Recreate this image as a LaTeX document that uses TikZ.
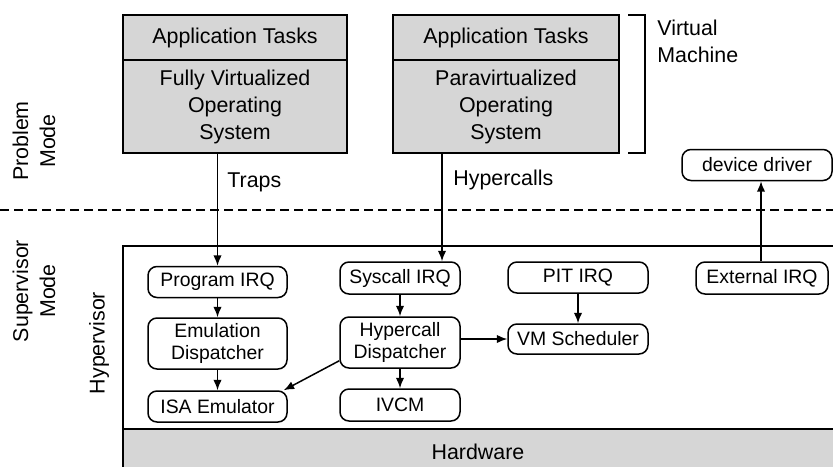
\documentclass[tikz,border=0pt]{standalone}
\usepackage{fontspec}
\setmainfont{Liberation Sans}
\usetikzlibrary{arrows.meta,calc}

\tikzset{
  big/.style={font=\fontsize{10.7}{13.5}\selectfont},
  small/.style={font=\fontsize{9.7}{11}\selectfont},
  vmbox/.style={draw, line width=0.85pt, fill=boxgray, big, align=center, inner sep=0pt},
  unit/.style={draw, line width=0.75pt, rounded corners=4.5pt, fill=white, small,
               align=center, inner sep=0pt},
  arr/.style={line width=0.75pt, -{Latex[length=5.2pt, width=4.2pt]}},
}
\definecolor{boxgray}{HTML}{D6D6D6}

\begin{document}
\begin{tikzpicture}[x=0.5pt, y=-0.5pt]
\useasboundingbox (0,0) rectangle (833,466);

% dashed boundary between problem and supervisor mode
\draw[line width=0.7pt, dash pattern=on 4.5pt off 2.5pt] (0,210) -- (833,210);

% hypervisor frame and hardware layer
\draw[line width=0.85pt] (840,246) -- (123,246) -- (123,429);
\fill[boxgray] (123,429) rectangle (840,470);
\draw[line width=0.85pt] (123,470) -- (123,429);
\draw[line width=1.2pt] (123,429) -- (840,429);
\node[big] (hw) at (478,452) {Hardware};

% virtual machines
\node[vmbox, minimum width=112pt, minimum height=22.5pt] (app1) at (235,37.5) {Application Tasks};
\node[vmbox, minimum width=112pt, minimum height=46.5pt] (os1) at (235,106.5)
  {Fully Virtualized\\Operating\\System};
\node[vmbox, minimum width=113pt, minimum height=22.5pt] (app2) at (506,37.5) {Application Tasks};
\node[vmbox, minimum width=113pt, minimum height=46.5pt] (os2) at (506,106.5)
  {Paravirtualized\\Operating\\System};

% bracket marking one virtual machine
\coordinate (bt) at (628,15);
\coordinate (bb) at (628,153);
\draw[line width=0.85pt] (bt) -- ++(17,0) -- ($(bb)+(17,0)$) -- (bb);
\node[big, anchor=north west, align=left, inner sep=0pt] (vm) at (657,20) {Virtual\\Machine};

% mode labels
\node[big, rotate=90, align=center, inner sep=0pt] (pm) at (34,141) {Problem\\Mode};
\node[big, rotate=90, align=center, inner sep=0pt] (sm) at (34,291) {Supervisor\\Mode};
\node[big, rotate=90, inner sep=0pt] (hv) at (99,343) {Hypervisor};

% problem mode driver
\node[unit, minimum width=75pt, minimum height=15.5pt] (dd) at (757,165) {device driver};

% hypervisor components
\node[unit, minimum width=69.5pt, minimum height=15.5pt] (pirq) at (217.5,282) {Program IRQ};
\node[unit, minimum width=69.5pt, minimum height=25.5pt] (emu) at (217.5,343.5) {Emulation\\Dispatcher};
\node[unit, minimum width=69.5pt, minimum height=15.5pt] (isa) at (217.5,406.5) {ISA Emulator};

\node[unit, minimum width=60pt, minimum height=16pt] (sirq) at (400,278) {Syscall IRQ};
\node[unit, minimum width=60pt, minimum height=25.5pt] (hcd) at (400,342.5) {Hypercall\\Dispatcher};
\node[unit, minimum width=60pt, minimum height=16pt] (ivcm) at (400,405) {IVCM};

\node[unit, minimum width=70pt, minimum height=15.5pt] (pit) at (578,277.5) {PIT IRQ};
\node[unit, minimum width=70pt, minimum height=15pt] (vms) at (578,339) {VM Scheduler};

\node[unit, minimum width=66pt, minimum height=16pt] (ext) at (762,278) {External IRQ};

% traps and hypercalls into the hypervisor
\draw[arr] (os1.south -| pirq.north) -- (pirq.north);
\node[big, anchor=west, inner sep=0pt] (traps) at (227,182) {Traps};
\coordinate (hcin) at ([xshift=21pt]sirq.north);
\draw[arr] (os2.south -| hcin) -- (hcin);
\node[big, anchor=west, inner sep=0pt] (hcl) at (453,180) {Hypercalls};

% external interrupt up to the driver
\draw[arr] ([xshift=-0.5pt]ext.north) -- ([xshift=-0.5pt]ext.north |- dd.south);

% internal flow
\draw[arr] (pirq) -- (emu);
\draw[arr] (emu) -- (isa);
\draw[arr] (sirq) -- (hcd);
\draw[arr] (hcd) -- (ivcm);
\draw[arr] (pit) -- (vms);
\draw[arr] (hcd.east |- vms.west) -- (vms.west);
\draw[arr] ([yshift=4pt]hcd.south west) -- ([xshift=-2pt]isa.north east);
\end{tikzpicture}
\end{document}
